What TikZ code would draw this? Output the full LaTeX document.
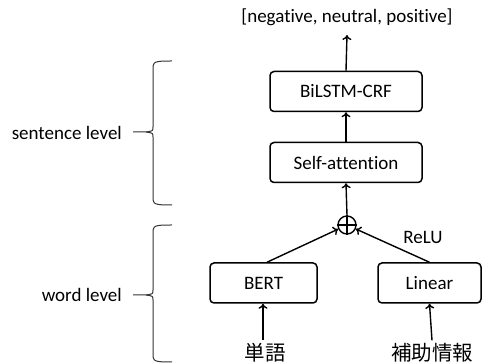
\documentclass[tikz,border=0pt]{standalone}
\usepackage{fontspec}
\setmainfont{Carlito}[Ligatures=NoCommon]
\newfontfamily\jpfont{Noto Sans CJK JP}
\usetikzlibrary{arrows.meta}
\tikzset{
  blk/.style={draw, line width=1.5pt, rounded corners=4pt, minimum height=40pt, inner sep=0pt, font=\fontsize{19}{21}\selectfont},
  lbl/.style={inner sep=0pt, font=\fontsize{19}{21}\selectfont},
  jp/.style={inner sep=0pt, font=\jpfont\fontsize{20.5}{22}\selectfont},
  arr/.style={-{To[length=5pt,width=9pt]}, line width=1.4pt},
  brc/.style={line width=1pt, draw=black!80},
}
\begin{document}
\begin{tikzpicture}[x=1pt,y=-1pt]
\useasboundingbox (0,0) rectangle (483,363);
\node[lbl] (out) at (347,17) {[negative, neutral, positive]};
\node[blk, minimum width=152pt] (bilstm) at (346,91.5) {BiLSTM-CRF};
\node[blk, minimum width=152pt] (selfatt) at (346,162.5) {Self-attention};
\node[draw, circle, line width=1.4pt, minimum size=18pt, inner sep=0pt] (plus) at (347,225) {};
\draw[line width=1.2pt] (plus.north) -- (plus.south) (plus.west) -- (plus.east);
\node[blk, minimum width=107pt] (bert) at (263.5,283) {BERT};
\node[blk, minimum width=103pt] (linear) at (429.5,283) {Linear};
\node[jp] (tango) at (265,353) {単語};
\node[jp] (hojo) at (432,353) {補助情報};
\node[lbl] (relu) at (423,237) {ReLU};
\node[lbl, anchor=east] (sent) at (122,133) {sentence level};
\node[lbl, anchor=east] (word) at (122,295) {word level};
\coordinate (outend) at (347,35);
\draw[arr] (bilstm.north) -- (outend);
\draw[arr] (selfatt.north) -- (bilstm.south);
\draw[arr] (plus.north) -- (selfatt.south);
\draw[arr] ([xshift=3.5pt]bert.north) -- (plus);
\draw[arr] (linear.north) -- (plus);
\draw[arr] ([xshift=-2pt]tango.north) ++(0,-3) -- ([xshift=-0.5pt]bert.south);
\draw[arr] (hojo.north) ++(0,-3) -- (linear.south);
% braces
\draw[brc] (172,61) .. controls (160,61) and (153,61) .. (153,66) -- (153,127) .. controls (153,131) .. (146,132) -- (133,132);
\draw[brc] (146,132) .. controls (153,133) .. (153,137) -- (153,200) .. controls (153,205) and (160,205) .. (172,205);
\draw[brc] (172,225) .. controls (160,225) and (153,225) .. (153,230) -- (153,290) .. controls (153,294) .. (146,295) -- (133,295);
\draw[brc] (146,295) .. controls (153,296) .. (153,300) -- (153,357) .. controls (153,362) and (160,362) .. (172,362);
\end{tikzpicture}
\end{document}
